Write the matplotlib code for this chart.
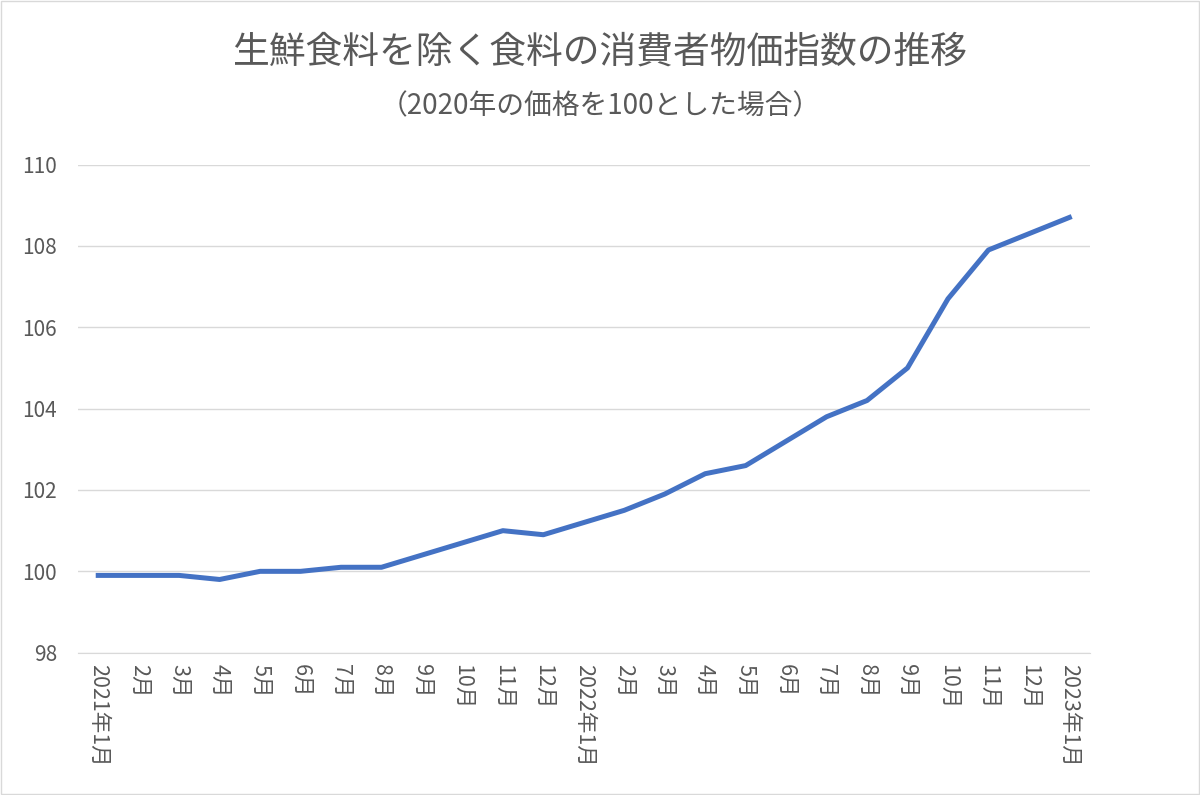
import matplotlib.pyplot as plt
import numpy as np

plt.rcParams['font.family'] = ['Noto Sans CJK JP', 'DejaVu Sans']

labels = ['2021年1月', '2月', '3月', '4月', '5月', '6月', '7月', '8月', '9月', '10月', '11月', '12月',
          '2022年1月', '2月', '3月', '4月', '5月', '6月', '7月', '8月', '9月', '10月', '11月', '12月',
          '2023年1月']
values = [99.9, 99.9, 99.9, 99.8, 100.0, 100.0, 100.1, 100.1, 100.4, 100.7, 101.0, 100.9,
          101.2, 101.5, 101.9, 102.4, 102.6, 103.2, 103.8, 104.2, 105.0, 106.7, 107.9, 108.3,
          108.7]
yticks = [98, 100, 102, 104, 106, 108, 110]

fig = plt.figure(figsize=(12, 7.95), dpi=100)
ax = fig.add_axes([0.065, 0.179, 0.843, 0.614])

x = np.arange(len(values))
ax.plot(x, values, color='#4472C4', linewidth=3.6, solid_joinstyle='round', zorder=3)

ax.set_xlim(-0.5, len(values) - 0.5)
ax.set_ylim(98, 110)
ax.set_yticks(yticks)
ax.set_yticklabels([str(v) for v in yticks], fontsize=15, color='#595959')
ax.set_xticks(x)
ax.set_xticklabels(labels, rotation=-90, fontsize=15.5, color='#595959', va='top')
ax.tick_params(axis='y', length=0, pad=15)
ax.tick_params(axis='x', length=0, pad=8)
ax.yaxis.grid(True, color='#D9D9D9', linewidth=1)
for s in ['top', 'right', 'left']:
    ax.spines[s].set_visible(False)
ax.spines['bottom'].set_color('#D9D9D9')

fig.text(0.5, 0.935, '生鮮食料を除く食料の消費者物価指数の推移', ha='center', va='center',
         fontsize=26.5, color='#595959')
fig.text(0.5, 0.866, '（2020年の価格を100とした場合）', ha='center', va='center',
         fontsize=20, color='#595959')

fig.patches.append(plt.Rectangle((0.001, 0.001), 0.998, 0.998, transform=fig.transFigure,
                                 fill=False, edgecolor='#D9D9D9', linewidth=1))

fig.savefig('out.png', dpi=100, facecolor='white')
